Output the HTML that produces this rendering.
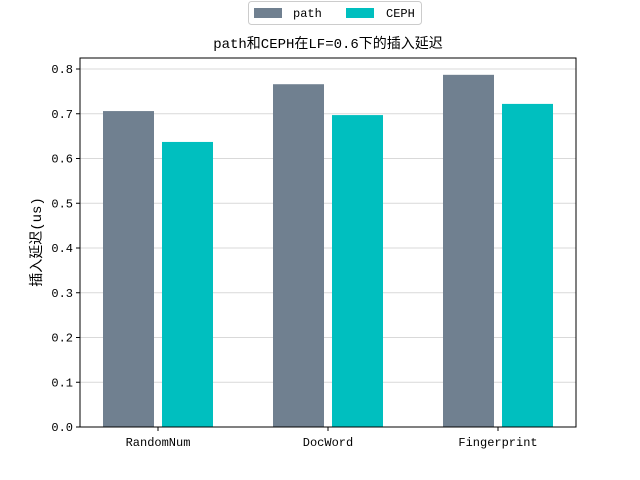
<!DOCTYPE html>
<html><head><meta charset="utf-8"><style>
body{margin:0;background:#fff}
svg{display:block}
text{font-family:"Liberation Mono","WenQuanYi Zen Hei",monospace;fill:#000}
</style></head><body>
<svg id="chart" width="640" height="480">
<g id="grid"></g><g id="bars"></g><g id="axes"></g>
</svg>
<script>
const categories=["RandomNum","DocWord","Fingerprint"];
const pathValues=[0.706,0.766,0.787];
const cephValues=[0.637,0.697,0.722];
const yTicks=[0,0.1,0.2,0.3,0.4,0.5,0.6,0.7,0.8];
const NS="http://www.w3.org/2000/svg";
const L=80,R=576,T=58,B=427;
const y=v=>B-v*447.5;
const xc=i=>158+i*170;
function mk(tag,attrs,parent,txt){const e=document.createElementNS(NS,tag);for(const k in attrs)e.setAttribute(k,attrs[k]);if(txt!==undefined)e.textContent=txt;parent.appendChild(e);return e;}
const svg=document.getElementById('chart'),grid=document.getElementById('grid'),bars=document.getElementById('bars'),axes=document.getElementById('axes');
yTicks.forEach(t=>{
 const g=mk('line',{x1:L,x2:R,y1:y(t),y2:y(t),stroke:'#d9d9d9','stroke-width':1},grid);
 
 
 const tk=mk('line',{x1:L-4,x2:L,y1:y(t),y2:y(t),stroke:'#000'},axes);
 
 
 const lb=mk('text',{x:L-7,y:y(t)+4,'text-anchor':'end','font-size':12},axes,t.toFixed(1));
 
 
});
categories.forEach((c,i)=>{
 const b1=mk('rect',{x:xc(i)-55,y:y(pathValues[i]),width:51,height:B-y(pathValues[i]),fill:'#708090'},bars);
 
 
 const b2=mk('rect',{x:xc(i)+4,y:y(cephValues[i]),width:51,height:B-y(cephValues[i]),fill:'#00bfbf'},bars);
 
 
 const tk=mk('line',{x1:xc(i),x2:xc(i),y1:B,y2:B+4,stroke:'#000'},axes);
 
 
 const lb=mk('text',{x:xc(i),y:B+19,'text-anchor':'middle','font-size':12},axes,c);
 
 
});
const fr=mk('rect',{x:L,y:T,width:R-L,height:B-T,fill:'none',stroke:'#000','stroke-width':1},axes);


const ti=mk('text',{x:328,y:48,'text-anchor':'middle','font-size':14},axes,'path和CEPH在LF=0.6下的插入延迟');


const yl=mk('text',{x:0,y:0,'text-anchor':'middle','font-size':14,transform:'translate(41,242) rotate(-90)'},axes,'插入延迟(us)');


const lg=mk('g',{},svg);


mk('rect',{x:248.5,y:1.5,width:173,height:23,rx:3,fill:'#fff',stroke:'#ccc'},lg);
const e1=mk('rect',{x:254,y:8,width:28,height:10,fill:'#708090'},lg);


mk('text',{x:293,y:17,'font-size':12},lg,'path');
const e2=mk('rect',{x:346,y:8,width:28,height:10,fill:'#00bfbf'},lg);


mk('text',{x:386,y:17,'font-size':12},lg,'CEPH');
</script>
</body></html>
